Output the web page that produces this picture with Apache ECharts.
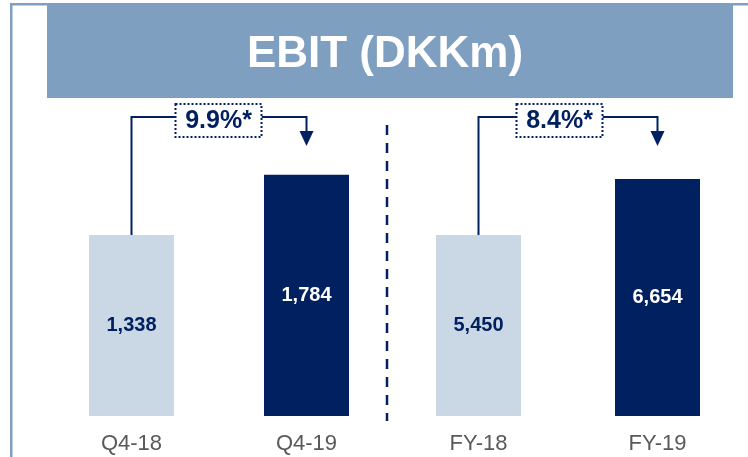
<!DOCTYPE html>
<html>
<head>
<meta charset="utf-8">
<script src="https://cdn.jsdelivr.net/npm/echarts@6/dist/echarts.min.js"></script>
<style>
  html, body { margin: 0; padding: 0; background: #fff; }
  #main { width: 748px; height: 457px; }
</style>
</head>
<body>
<div id="main"></div>
<script>
// EBIT (DKKm)
const quarterCats = ['Q4-18', 'Q4-19'];
const quarterValues = [1338, 1784];
const yearCats = ['FY-18', 'FY-19'];
const yearValues = [5450, 6654];
const growthLabels = ['9.9%*', '8.4%*'];

const navy = '#002060';
const light = '#CAD8E5';
const steel = '#7F9FC1';
const font = 'Arial, "Liberation Sans", sans-serif';

function barData(values) {
  return values.map((v, i) => ({
    value: v,
    itemStyle: { color: i === 0 ? light : navy },
    label: { color: i === 0 ? navy : '#fff' }
  }));
}

function xAxis(gridIndex, data) {
  return {
    type: 'category',
    gridIndex: gridIndex,
    data: data,
    axisLine: { show: false },
    axisTick: { show: false },
    axisLabel: { fontSize: 22, color: '#595959', margin: 17, fontFamily: font }
  };
}

function yAxis(gridIndex, min, max) {
  return {
    type: 'value',
    gridIndex: gridIndex,
    min: min,
    max: max,
    show: false,
    splitLine: { show: false }
  };
}

function barSeries(idx, values) {
  return {
    type: 'bar',
    xAxisIndex: idx,
    yAxisIndex: idx,
    barWidth: 85,
    clip: true,
    data: barData(values),
    label: {
      show: true,
      position: 'inside',
      fontSize: 20,
      fontWeight: 'bold',
      fontFamily: font,
      formatter: p => p.value.toLocaleString('en-US')
    }
  };
}

let myChart = echarts.init(document.getElementById('main'));

myChart.setOption({
  animation: false,
  grid: [
    { left: 44, width: 350, top: 100, bottom: 41 },
    { left: 389, width: 358, top: 100, bottom: 41 }
  ],
  xAxis: [xAxis(0, quarterCats), xAxis(1, yearCats)],
  yAxis: [yAxis(0, 0, 2336), yAxis(1, 1559, 8353)],
  series: [barSeries(0, quarterValues), barSeries(1, yearValues)]
});

// growth bracket from bar to bar
function bracket(seriesIndex, values, text, boxOffset) {
  const p0 = myChart.convertToPixel({ seriesIndex: seriesIndex }, [0, values[0]]);
  const p1 = myChart.convertToPixel({ seriesIndex: seriesIndex }, [1, values[1]]);
  const lineY = 117, tipY = 146;
  const boxW = 86, boxH = 33, boxY = 104;
  const bx = p0[0] + boxOffset - boxW / 2;
  return [
    { type: 'polyline', shape: { points: [[p0[0], p0[1]], [p0[0], lineY], [bx, lineY]] },
      style: { stroke: navy, lineWidth: 2, fill: null } },
    { type: 'polyline', shape: { points: [[bx + boxW, lineY], [p1[0], lineY], [p1[0], tipY - 14]] },
      style: { stroke: navy, lineWidth: 2, fill: null } },
    { type: 'polygon', shape: { points: [[p1[0] - 7, tipY - 15], [p1[0] + 7, tipY - 15], [p1[0], tipY]] },
      style: { fill: navy } },
    { type: 'rect', shape: { x: bx, y: boxY, width: boxW, height: boxH },
      style: { fill: '#fff', stroke: navy, lineWidth: 2, lineDash: [2, 2] } },
    { type: 'text', x: bx + boxW / 2, y: boxY + boxH / 2 + 1,
      style: { text: text, fill: navy, font: 'bold 25px ' + font,
        align: 'center', verticalAlign: 'middle', textAlign: 'center', textVerticalAlign: 'middle' } }
  ];
}

let graphics = [
  // frame
  { type: 'rect', shape: { x: 10, y: 3, width: 738, height: 2.5 }, style: { fill: steel } },
  { type: 'rect', shape: { x: 10, y: 3, width: 2.5, height: 454 }, style: { fill: steel } },
  // title banner
  { type: 'rect', shape: { x: 47, y: 5, width: 686, height: 93 }, style: { fill: steel } },
  { type: 'text', x: 385, y: 55,
    style: { text: 'EBIT (DKKm)', fill: '#fff', font: 'bold 44px ' + font,
      align: 'center', verticalAlign: 'middle', textAlign: 'center', textVerticalAlign: 'middle' } },
  // divider between quarter and full year
  { type: 'line', shape: { x1: 387, y1: 125, x2: 387, y2: 421 },
    style: { stroke: navy, lineWidth: 2.5, lineDash: [10, 8] } }
];
graphics = graphics
  .concat(bracket(0, quarterValues, growthLabels[0], 87))
  .concat(bracket(1, yearValues, growthLabels[1], 81));

myChart.setOption({ graphic: graphics });
</script>
</body>
</html>
